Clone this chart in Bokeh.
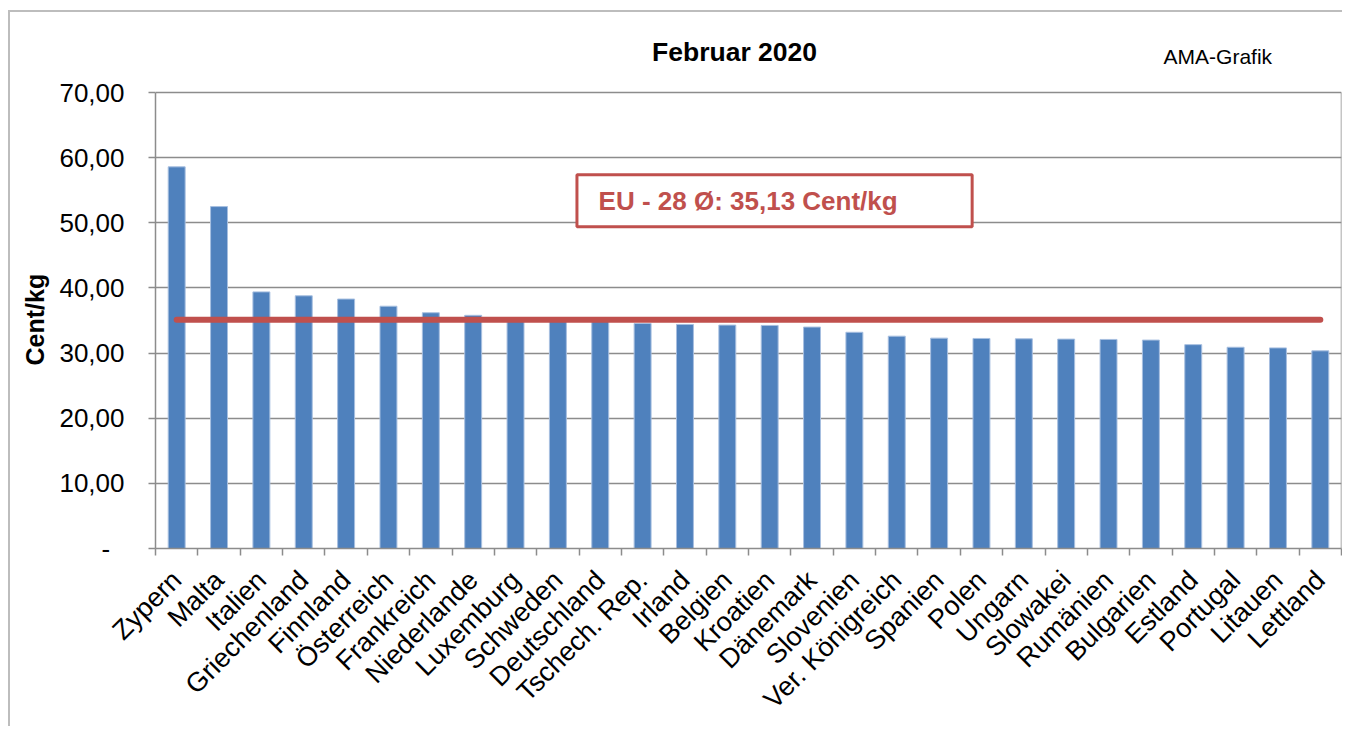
import math
from bokeh.plotting import figure
from bokeh.models import Range1d, FixedTicker, Label, BoxAnnotation, Title
from bokeh.embed import file_html
from bokeh.resources import INLINE

# ---- data ----
countries = ["Zypern", "Malta", "Italien", "Griechenland", "Finnland", "Österreich",
             "Frankreich", "Niederlande", "Luxemburg", "Schweden", "Deutschland",
             "Tschech. Rep.", "Irland", "Belgien", "Kroatien", "Dänemark", "Slovenien",
             "Ver. Königreich", "Spanien", "Polen", "Ungarn", "Slowakei", "Rumänien",
             "Bulgarien", "Estland", "Portugal", "Litauen", "Lettland"]
prices = [58.6, 52.5, 39.4, 38.8, 38.3, 37.2, 36.2, 35.8, 35.4, 35.2, 35.0,
          34.55, 34.4, 34.3, 34.25, 34.0, 33.2, 32.6, 32.3, 32.25, 32.2, 32.15,
          32.1, 32.0, 31.3, 30.9, 30.8, 30.35]
eu_avg = 35.13
eu_label = "EU - 28 Ø: 35,13 Cent/kg"
y_ticks = [0, 10, 20, 30, 40, 50, 60, 70]
y_tick_labels = ["-\u2007", "10,00", "20,00", "30,00", "40,00", "50,00", "60,00", "70,00"]
title_text = "Februar 2020"
source_text = "AMA-Grafik"
y_title = "Cent/kg"

FONT = "Liberation Sans"
GRID = "#8c8c8c"
RED = "#C0504D"

n = len(countries)
xpos = list(range(n))
y_top = y_ticks[-1]
# frame extends above the value axis to hold the heading texts
y_view_max = 82.3

p = figure(width=1334, height=716, title=None,
           x_range=Range1d(-0.5, n - 0.5), y_range=Range1d(y_ticks[0], y_view_max),
           output_backend="svg", toolbar_location=None,
           min_border_left=143, min_border_right=3, min_border_top=0, min_border_bottom=174)
p.styles = {"margin-left": "8px", "margin-top": "10px",
            "border-left": "2px solid #bdbdbd", "border-top": "2px solid #bdbdbd"}
p.background_fill_color = "white"
p.border_fill_color = "white"
p.outline_line_color = None

# right edge of the plot area
p.segment(x0=[n - 0.5], y0=[y_ticks[0]], x1=[n - 0.5], y1=[y_top],
          line_color=GRID, line_width=1.5)

p.vbar(x=xpos, top=prices, bottom=0, width=0.4,
       fill_color="#4F81BD", line_color="#a7bfe0", line_width=1)
p.line(x=[xpos[0], xpos[-1]], y=[eu_avg, eu_avg], line_width=6,
       line_color=RED, line_cap="round")

# x axis
xa = p.xaxis[0]
xa.ticker = FixedTicker(ticks=xpos, minor_ticks=[i - 0.5 for i in range(n + 1)])
xa.major_label_overrides = {i: c for i, c in enumerate(countries)}
xa.major_label_orientation = math.pi / 4
xa.major_tick_in = 0
xa.major_tick_out = 0
xa.minor_tick_in = 0
xa.minor_tick_out = 7
xa.minor_tick_line_color = GRID
xa.minor_tick_line_width = 1.5
xa.axis_line_color = GRID
xa.axis_line_width = 1.5
xa.major_label_standoff = 20
xa.major_label_text_font = FONT
xa.major_label_text_font_size = "27px"
xa.major_label_text_color = "black"

# y axis
ya = p.yaxis[0]
ya.ticker = FixedTicker(ticks=y_ticks)
ya.bounds = (y_ticks[0], y_top)
ya.major_label_overrides = dict(zip(y_ticks, y_tick_labels))
ya.major_tick_in = 0
ya.major_tick_out = 7
ya.major_tick_line_color = GRID
ya.major_tick_line_width = 1.5
ya.minor_tick_line_color = None
ya.axis_line_color = GRID
ya.axis_line_width = 1.5
ya.major_label_standoff = 24
ya.major_label_text_font = FONT
ya.major_label_text_font_size = "26px"
ya.major_label_text_color = "black"

# y axis title as a side title, placed at the middle of the value axis
p.add_layout(Title(text=y_title, align="left", offset=183, standoff=16,
                   text_font=FONT, text_font_size="25px", text_font_style="bold",
                   text_color="black"), "left")

p.xgrid.visible = False
p.ygrid.ticker = FixedTicker(ticks=y_ticks)
p.ygrid.grid_line_color = GRID
p.ygrid.grid_line_width = 1.5

# EU average box + label
box = BoxAnnotation(left=9.45, right=18.78, top=57.4, bottom=49.4,
                    fill_color="white", fill_alpha=1.0,
                    line_color=RED, line_width=3, line_alpha=1.0)
p.add_layout(box)
p.add_layout(Label(x=9.96, y=53.3, text=eu_label, text_font=FONT,
                   text_font_size="26px", text_font_style="bold",
                   text_color=RED, text_baseline="middle", text_align="left"))

# heading and source
p.add_layout(Label(x=13.17, y=76.2, text=title_text, text_font=FONT,
                   text_font_size="26.5px", text_font_style="bold",
                   text_color="black", text_baseline="middle", text_align="center"))
p.add_layout(Label(x=23.3, y=75.6, text=source_text, text_font=FONT,
                   text_font_size="21px", text_color="black",
                   text_baseline="middle", text_align="left"))

open("out.html", "w").write(file_html(p, INLINE))
